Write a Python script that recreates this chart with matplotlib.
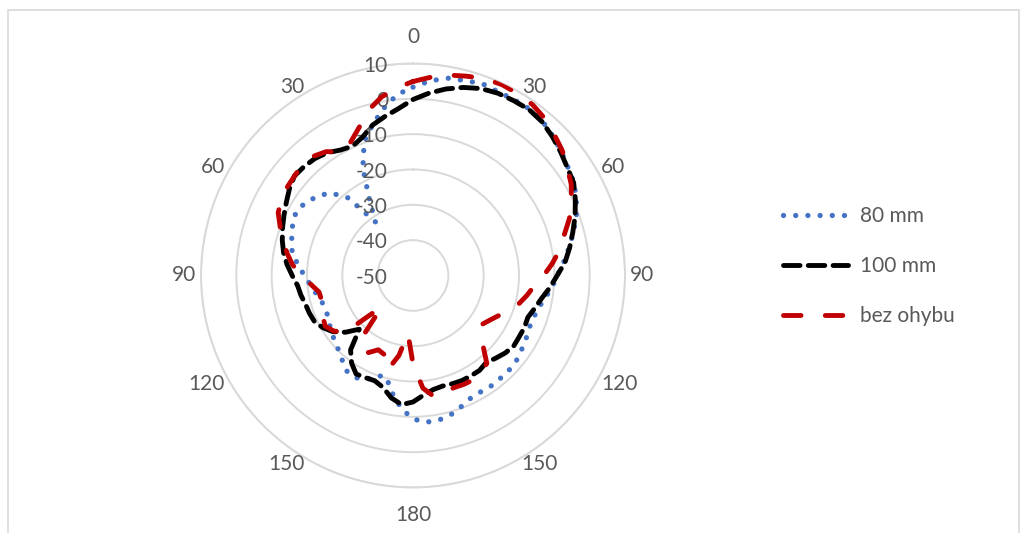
import numpy as np
import matplotlib
matplotlib.use("Agg")
import matplotlib.pyplot as plt
from matplotlib.patches import Rectangle

# Data (dB), one value every 5 degrees, clockwise from the top
angles = list(range(0, 360, 5))

mm80 = [3.3, 5.3, 6.7, 7.1, 7.7, 7.3, 7.4, 7.5, 7.0, 5.9, 4.7, 3.5,
        2.6, 1.0, -0.8, -3.0, -5.2, -7.2, -9.2, -10.5, -12.2, -13.4, -13.9, -13.9,
        -13.2, -12.7, -12.0, -11.8, -11.8, -11.7, -11.9, -11.6, -10.4, -9.1, -8.4, -8.3,
        -9.4, -12.2, -16.2, -20.4, -19.8, -17.3, -16.8, -17.1, -18.8, -20.2, -21.0, -22.0,
        -22.6, -23.3, -23.5, -23.0, -22.0, -20.8, -19.2, -17.5, -15.3, -14.4, -13.6, -12.5,
        -12.4, -13.5, -15.0, -16.9, -21.3, -31.5, -25.4, -16.4, -9.6, -5.8, -2.0, 1.4]

mm100 = [-0.2, 1.8, 3.6, 5.1, 6.3, 6.9, 7.1, 7.3, 6.8, 5.7, 4.5, 3.3,
         2.5, 0.7, -1.2, -3.2, -5.0, -6.8, -9.2, -11.1, -13.0, -14.3, -15.4, -15.2,
         -15.3, -15.2, -15.9, -16.9, -17.8, -17.2, -17.2, -17.2, -17.4, -17.6, -17.2, -16.0,
         -14.2, -13.3, -14.8, -17.2, -18.3, -18.1, -17.8, -19.7, -22.5, -28.5, -25.0, -22.3,
         -20.5, -19.2, -18.8, -18.5, -17.8, -17.2, -15.8, -14.2, -12.8, -11.7, -10.7, -9.7,
         -8.6, -7.3, -6.2, -6.4, -6.8, -7.6, -9.0, -9.6, -8.3, -5.9, -4.3, -2.6]

bez_ohybu = [4.9, 6.3, 7.6, 8.4, 9.3, 9.6, 9.4, 9.0, 8.0, 6.5, 5.1, 3.3,
             1.7, -0.5, -2.9, -5.7, -7.8, -10.4, -13.0, -15.6, -17.3, -19.0, -21.5, -23.2,
             -24.8, -26.0, -24.3, -22.0, -17.5, -16.6, -15.9, -16.0, -16.2, -15.7, -15.1, -18.0,
             -25.0, -33.5, -27.0, -22.4, -26.2, -26.8, -24.8, -24.8, -29.0, -37.5, -25.0, -22.6,
             -21.3, -21.9, -22.8, -23.2, -23.0, -21.0, -18.5, -15.8, -13.8, -12.0, -10.0, -7.9,
             -7.0, -6.5, -6.2, -5.7, -6.0, -7.2, -9.7, -8.3, -5.4, -1.5, 1.3, 3.3]

r_ticks = [-50, -40, -30, -20, -10, 0, 10]
cat_angles = list(range(0, 360, 30))
cat_labels = ["0", "30", "60", "90", "120", "150", "180", "150", "120", "90", "60", "30"]

txt_color = "#595959"
grid_color = "#d9d9d9"
plt.rcParams["font.family"] = ["Lato", "DejaVu Sans"]
fs = 15

fig = plt.figure(figsize=(10.27, 5.33), dpi=100)
ax = fig.add_axes([0.1957, 0.0854, 0.4129, 0.7955], projection="polar")
ax.set_theta_zero_location("N")
ax.set_theta_direction(-1)
ax.set_ylim(-50, 10)
ax.set_yticks(r_ticks)
ax.set_yticklabels([])
ax.set_xticks([])
ax.yaxis.grid(True, color=grid_color, lw=1.4)
ax.spines["polar"].set_color(grid_color)
ax.spines["polar"].set_linewidth(1.4)

theta = np.deg2rad(angles + [360])


def closed(vals):
    return vals + [vals[0]]


ax.plot(theta, closed(mm80), color="#4472C4", lw=3.8, linestyle=(0, (0.01, 2.3)),
        dash_capstyle="round", label="80 mm", zorder=3)
ax.plot(theta, closed(mm100), color="black", lw=3.5, linestyle=(0, (3.4, 1.7)),
        dash_capstyle="round", label="100 mm", zorder=4)
ax.plot(theta, closed(bez_ohybu), color="#C00000", lw=3.5, linestyle=(0, (3.6, 5.0)),
        dash_capstyle="round", label="bez ohybu", zorder=5)

# radial value labels along the top spoke
for v in r_ticks:
    ax.annotate(str(v), xy=(0, v), xytext=(-18, -1.5), textcoords="offset points",
                ha="right", va="center", fontsize=fs, color=txt_color)

# category labels around the outside
for a, lbl in zip(cat_angles, cat_labels):
    s = np.sin(np.deg2rad(a))
    if s > 0.01:
        ha = "left"
    elif s < -0.01:
        ha = "right"
    else:
        ha = "center"
    if a == 0:
        va, rr = "bottom", 14.6
    elif a == 180:
        va, rr = "top", 15.0
    else:
        va, rr = "center", 11.5
    ax.text(np.deg2rad(a), rr, lbl, ha=ha, va=va, fontsize=fs, color=txt_color)

fig.legend(loc="center left", bbox_to_anchor=(783 / 1027, 1 - 266 / 533),
           frameon=False, fontsize=fs, labelcolor=txt_color, borderpad=0,
           borderaxespad=0, handlelength=3.1, handletextpad=0.6, labelspacing=1.45)

fig.add_artist(Rectangle((8 / 1027, -0.1), 1011 / 1027, 1.1 - 10 / 533,
                         transform=fig.transFigure, fill=False, ec=grid_color, lw=1.2))

fig.savefig("out.png", dpi=100)
